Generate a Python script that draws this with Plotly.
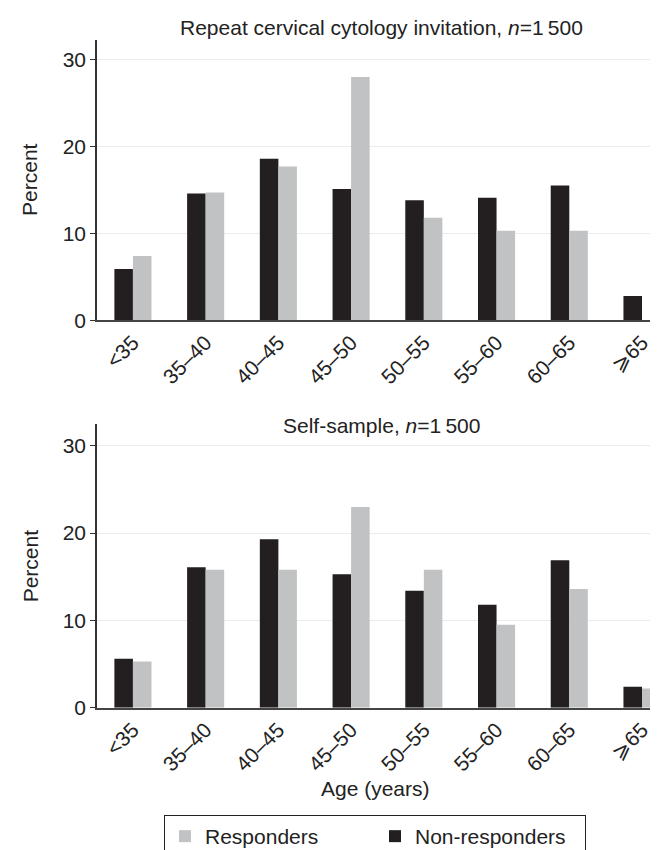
import plotly.graph_objects as go

categories = ["<35", "35–40", "40–45", "45–50", "50–55", "55–60", "60–65", "⩾65"]

top_nonresp = [5.9, 14.6, 18.6, 15.1, 13.8, 14.1, 15.5, 2.8]
top_resp = [7.4, 14.7, 17.7, 28.0, 11.8, 10.3, 10.3, 0.0]

bot_nonresp = [5.6, 16.1, 19.3, 15.3, 13.4, 11.8, 16.9, 2.4]
bot_resp = [5.3, 15.8, 15.8, 23.0, 15.8, 9.5, 13.6, 2.2]

BLACK = "#231f20"
GREY = "#c1c2c4"
TXT = "#222222"
FONT = "Liberation Sans, Arial, sans-serif"
FS = 21

W, H = 658, 850
fig = go.Figure()
xpos = list(range(len(categories)))

fig.add_trace(go.Bar(x=xpos, y=top_nonresp, name="Non-responders", marker_color=BLACK,
                     marker_line_width=0, xaxis="x", yaxis="y", legendrank=2))
fig.add_trace(go.Bar(x=xpos, y=top_resp, name="Responders", marker_color=GREY,
                     marker_line_width=0, xaxis="x", yaxis="y", legendrank=1))
fig.add_trace(go.Bar(x=xpos, y=bot_nonresp, name="Non-responders", marker_color=BLACK,
                     marker_line_width=0, xaxis="x2", yaxis="y2", showlegend=False))
fig.add_trace(go.Bar(x=xpos, y=bot_resp, name="Responders", marker_color=GREY,
                     marker_line_width=0, xaxis="x2", yaxis="y2", showlegend=False))

xdom = [89 / W, 1.0]
ydom_top = [1 - 316 / H, 1 - 32 / H]
ydom_bot = [1 - 708 / H, 1 - 421 / H]

xcommon = dict(domain=xdom, range=[-0.494, 7.33], tickmode="array", tickvals=xpos,
               ticktext=categories, tickangle=-45, showgrid=False, showline=True,
               linecolor="#444444", linewidth=1.5, ticks="", zeroline=False,
               tickfont=dict(size=FS, color=TXT, family=FONT))
ycommon = dict(tickvals=[0, 10, 20, 30], showgrid=True, gridcolor="#ececec", gridwidth=1,
               showline=True, linecolor="#333333", linewidth=1.5, ticks="outside",
               ticklen=5, tickcolor="#333333", zeroline=False,
               tickfont=dict(size=FS, color=TXT, family=FONT))

cx = (89 + 658) / 2 / W
fig.update_layout(
    width=W, height=H,
    margin=dict(l=0, r=0, t=0, b=0),
    paper_bgcolor="white", plot_bgcolor="white",
    barmode="group", bargap=0.49, bargroupgap=0,
    font=dict(family=FONT, color=TXT),
    xaxis=dict(xcommon, anchor="y"),
    yaxis=dict(ycommon, domain=ydom_top, range=[0, 32.3], anchor="x"),
    xaxis2=dict(xcommon, anchor="y2"),
    yaxis2=dict(ycommon, domain=ydom_bot, range=[0, 32.5], anchor="x2"),
    showlegend=True,
    legend=dict(orientation="h", x=156 / W, y=1 - 817 / H, xanchor="left", yanchor="top",
                bordercolor=TXT, borderwidth=1, bgcolor="white",
                font=dict(size=FS, color=TXT, family=FONT),
                entrywidth=165, traceorder="normal"),
    annotations=[
        dict(text="Repeat cervical cytology invitation, <i>n</i>=1\u2009500", xref="paper", yref="paper",
             x=cx, y=1 - 20 / H, xanchor="center", yanchor="middle", showarrow=False,
             font=dict(size=FS, color=TXT, family=FONT)),
        dict(text="Self-sample, <i>n</i>=1\u2009500", xref="paper", yref="paper",
             x=cx, y=1 - 422 / H, xanchor="center", yanchor="middle", showarrow=False,
             font=dict(size=FS, color=TXT, family=FONT)),
        dict(text="Percent", xref="paper", yref="paper", textangle=-90,
             x=22 / W, y=1 - 174 / H, xanchor="center", yanchor="middle", showarrow=False,
             font=dict(size=FS, color=TXT, family=FONT)),
        dict(text="Percent", xref="paper", yref="paper", textangle=-90,
             x=22 / W, y=1 - 565 / H, xanchor="center", yanchor="middle", showarrow=False,
             font=dict(size=FS, color=TXT, family=FONT)),
        dict(text="Age (years)", xref="paper", yref="paper",
             x=367 / W, y=1 - 790 / H, xanchor="center", yanchor="middle", showarrow=False,
             font=dict(size=FS, color=TXT, family=FONT)),
    ],
)

fig.write_html("out.html")
